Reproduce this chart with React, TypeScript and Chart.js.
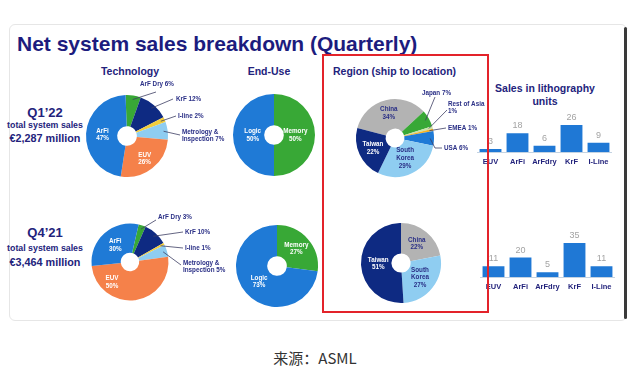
import React, { useEffect, useRef } from 'react';
import { Chart, registerables } from 'chart.js';
Chart.register(...registerables);

const FONT = '"Liberation Sans", Arial, Helvetica, sans-serif';
const NAVY = '#23237c';
const LABEL_NAVY = '#2a2f86';

// ---------- data ----------
const techNames = ['ArF Dry', 'KrF', 'I-line', 'Metrology &\nInspection', 'EUV', 'ArFi'];
const techQ122 = [6, 12, 2, 7, 26, 47];
const techQ421 = [3, 10, 1, 5, 50, 30];
const techColors = ['#38a836', '#0e2a82', '#f2cd3c', '#8fcdf1', '#f5814a', '#1f7ad6'];

const endUseNames = ['Memory', 'Logic'];
const endUseQ122 = [50, 50];
const endUseQ421 = [27, 73];
const endUseColors = ['#38a836', '#1f7ad6'];

const regionNamesQ122 = ['China', 'Japan', 'Rest of Asia', 'EMEA', 'USA', 'South\nKorea', 'Taiwan'];
const regionQ122 = [34, 7, 1, 1, 6, 29, 22];
const regionColorsQ122 = ['#b3b3b3', '#38a836', '#c9e2a8', '#f5b324', '#1f7ad6', '#8fcdf1', '#0e2a82'];
const regionNamesQ421 = ['China', 'South\nKorea', 'Taiwan'];
const regionQ421 = [22, 27, 51];
const regionColorsQ421 = ['#b3b3b3', '#8fcdf1', '#0e2a82'];

const unitCategories = ['EUV', 'ArFi', 'ArFdry', 'KrF', 'I-Line'];
const unitsQ122 = [3, 18, 6, 26, 9];
const unitsQ421 = [11, 20, 5, 35, 11];

// ---------- plugins ----------
const pieLabelPlugin = {
  id: 'pieLabels',
  afterDatasetsDraw(chart: any, _a: any, opts: any) {
    const { ctx } = chart;
    const meta = chart.getDatasetMeta(0);
    const ds = chart.data.datasets[0];
    const items = opts.items || [];
    meta.data.forEach((arc: any, i: number) => {
      const c = items[i];
      if (!c) return;
      const p = arc.getProps(['x', 'y', 'startAngle', 'endAngle', 'outerRadius', 'innerRadius'], true);
      const mid = c.ang != null ? ((c.ang - 90) * Math.PI) / 180 : (p.startAngle + p.endAngle) / 2;
      const text = chart.data.labels[i] + (c.sep || '\n') + ds.data[i] + '%';
      const lines = text.split('\n');
      const size = c.size || 6.3;
      const lh = size * 1.2;
      ctx.save();
      ctx.font = `bold ${size}px ${FONT}`;
      ctx.fillStyle = c.color || LABEL_NAVY;
      ctx.textBaseline = 'middle';
      if (c.kind === 'in') {
        const rr = p.outerRadius * (c.frac ?? 0.6);
        const x = p.x + Math.cos(mid) * rr;
        const y = p.y + Math.sin(mid) * rr;
        ctx.textAlign = 'center';
        lines.forEach((l: string, k: number) => ctx.fillText(l, x, y + (k - (lines.length - 1) / 2) * lh));
      } else {
        const sx = p.x + Math.cos(mid) * p.outerRadius * 0.9;
        const sy = p.y + Math.sin(mid) * p.outerRadius * 0.9;
        ctx.strokeStyle = '#3d3f63';
        ctx.lineWidth = 0.8;
        ctx.beginPath();
        ctx.moveTo(sx, sy);
        c.path.forEach(([dx, dy]: number[]) => ctx.lineTo(p.x + dx, p.y + dy));
        ctx.stroke();
        ctx.textAlign = 'left';
        lines.forEach((l: string, k: number) => ctx.fillText(l, p.x + c.at[0], p.y + c.at[1] + k * lh));
      }
      ctx.restore();
    });
  },
};

const barLabelPlugin = {
  id: 'barLabels',
  afterDatasetsDraw(chart: any) {
    const { ctx, chartArea } = chart;
    const meta = chart.getDatasetMeta(0);
    const ds = chart.data.datasets[0];
    ctx.save();
    ctx.strokeStyle = '#c4d3e2';
    ctx.lineWidth = 1;
    ctx.beginPath();
    ctx.moveTo(chartArea.left, chartArea.bottom + 0.5);
    ctx.lineTo(chartArea.right, chartArea.bottom + 0.5);
    ctx.stroke();
    ctx.textAlign = 'center';
    ctx.textBaseline = 'middle';
    meta.data.forEach((bar: any, i: number) => {
      const { x, y, base } = bar.getProps(['x', 'y', 'base'], true);
      ctx.fillStyle = '#a3a3a3';
      ctx.font = `9px ${FONT}`;
      ctx.fillText(String(ds.data[i]), x, y - 7.5);
      ctx.fillStyle = NAVY;
      ctx.font = `bold 7.5px ${FONT}`;
      ctx.fillText(chart.data.labels[i], x, base + 10);
    });
    ctx.restore();
  },
};

// ---------- components ----------
type Box = { l: number; t: number; r: number; b: number };

function PieChart(props: {
  names: string[]; values: number[]; colors: string[]; rotation: number;
  cx: number; cy: number; r: number; box: Box; items: any[];
}) {
  const ref = useRef<HTMLCanvasElement>(null);
  const { names, values, colors, rotation, cx, cy, r, box, items } = props;
  useEffect(() => {
    const chart = new Chart(ref.current as HTMLCanvasElement, {
      type: 'doughnut',
      data: { labels: names, datasets: [{ data: values, backgroundColor: colors, borderWidth: 0 }] },
      options: {
        responsive: false,
        animation: false,
        rotation,
        cutout: '24%',
        events: [],
        layout: {
          padding: { left: cx - r - box.l, right: box.r - (cx + r), top: cy - r - box.t, bottom: box.b - (cy + r) },
        },
        plugins: { legend: { display: false }, tooltip: { enabled: false }, pieLabels: { items } } as any,
      },
      plugins: [pieLabelPlugin],
    } as any);
    return () => chart.destroy();
  }, []);
  const w = box.r - box.l;
  const h = box.b - box.t;
  return (
    <canvas ref={ref} width={w} height={h}
      style={{ position: 'absolute', left: box.l, top: box.t, width: w, height: h }} />
  );
}

function UnitsBar(props: { values: number[]; box: Box; areaLeft: number; areaRight: number; baseline: number; pxPerUnit: number }) {
  const ref = useRef<HTMLCanvasElement>(null);
  const { values, box, areaLeft, areaRight, baseline, pxPerUnit } = props;
  const yMax = 40;
  useEffect(() => {
    const h = box.b - box.t;
    const padBottom = box.b - baseline;
    const padTop = h - padBottom - yMax * pxPerUnit;
    const chart = new Chart(ref.current as HTMLCanvasElement, {
      type: 'bar',
      data: {
        labels: unitCategories,
        datasets: [{ data: values, backgroundColor: '#1f78d5', borderWidth: 0, categoryPercentage: 1, barPercentage: 0.81 }],
      },
      options: {
        responsive: false,
        animation: false,
        events: [],
        layout: { padding: { left: areaLeft - box.l, right: box.r - areaRight, top: padTop, bottom: padBottom } },
        scales: {
          x: { display: false },
          y: { display: false, min: 0, max: yMax },
        },
        plugins: { legend: { display: false }, tooltip: { enabled: false } },
      },
      plugins: [barLabelPlugin],
    } as any);
    return () => chart.destroy();
  }, []);
  const w = box.r - box.l;
  const h = box.b - box.t;
  return (
    <canvas ref={ref} width={w} height={h}
      style={{ position: 'absolute', left: box.l, top: box.t, width: w, height: h }} />
  );
}

function Txt(props: { x: number; y: number; size: number; bold?: boolean; color?: string; align?: string; family?: string; children: any }) {
  const { x, y, size, bold = true, color = NAVY, align = 'center', family, children } = props;
  const tx = align === 'center' ? '-50%' : align === 'right' ? '-100%' : '0';
  return (
    <div style={{
      position: 'absolute', left: x, top: y, transform: `translate(${tx}, -50%)`,
      fontSize: size, fontWeight: bold ? 700 : 400, color, whiteSpace: 'nowrap', lineHeight: 1,
      fontFamily: family || FONT,
    }}>{children}</div>
  );
}

// ---------- label layouts ----------
const techQ122Items = [
  { kind: 'out', sep: ' ', at: [13, -52], path: [[29, -44]] },
  { kind: 'out', sep: ' ', at: [49, -37], path: [[46, -37]] },
  { kind: 'out', sep: ' ', at: [51, -20], path: [[49, -20]] },
  { kind: 'out', sep: ' ', at: [55, -4], path: [[53, -1]] },
  { kind: 'in', sep: '\n', color: '#ffffff', frac: 0.7 },
  { kind: 'in', sep: '\n', color: '#ffffff', frac: 0.6 },
];
const techQ421Items = [
  { kind: 'out', sep: ' ', at: [28, -45], path: [[26, -42]] },
  { kind: 'out', sep: ' ', at: [55, -30], path: [[53, -30]] },
  { kind: 'out', sep: ' ', at: [55, -14], path: [[53, -14]] },
  { kind: 'out', sep: ' ', at: [53, 1], path: [[51, 3]] },
  { kind: 'in', sep: '\n', color: '#ffffff', frac: 0.7, ang: 222 },
  { kind: 'in', sep: '\n', color: '#ffffff', frac: 0.58 },
];
const endUseQ122Items = [
  { kind: 'in', sep: '\n', color: '#ffffff', frac: 0.52 },
  { kind: 'in', sep: '\n', color: '#ffffff', frac: 0.52 },
];
const endUseQ421Items = [
  { kind: 'in', sep: '\n', color: '#ffffff', frac: 0.63 },
  { kind: 'in', sep: '\n', color: '#ffffff', frac: 0.58 },
];
const regionQ122Items = [
  { kind: 'in', sep: '\n', color: LABEL_NAVY, frac: 0.66 },
  { kind: 'out', sep: ' ', at: [27, -45], path: [[40, -41]] },
  { kind: 'out', sep: '\n', at: [53, -34], path: [[52, -28]] },
  { kind: 'out', sep: ' ', at: [53, -10], path: [[51, -10]] },
  { kind: 'out', sep: ' ', at: [49, 10], path: [[40, 10], [47, 10]] },
  { kind: 'in', sep: '\n', color: LABEL_NAVY, frac: 0.58 },
  { kind: 'in', sep: '\n', color: '#ffffff', frac: 0.62 },
];
const regionQ421Items = [
  { kind: 'in', sep: '\n', color: LABEL_NAVY, frac: 0.62 },
  { kind: 'in', sep: '\n', color: LABEL_NAVY, frac: 0.6 },
  { kind: 'in', sep: '\n', color: '#ffffff', frac: 0.57 },
];

export default function App() {
  return (
    <div style={{ position: 'absolute', left: 0, top: 0, width: 640, height: 378, background: '#ffffff', overflow: 'hidden', fontFamily: FONT }}>
      {/* slide frame */}
      <div style={{ position: 'absolute', left: 9, top: 24, width: 616, height: 295, border: '1px solid #e6e6e6', borderRadius: 6 }} />
      <div style={{ position: 'absolute', left: 624, top: 27, width: 3, height: 292, background: '#3a3a3a', borderRadius: 2 }} />

      <Txt x={17} y={43} size={21} align="left" color="#1c1c7e">Net system sales breakdown (Quarterly)</Txt>

      {/* column headers */}
      <Txt x={130} y={71} size={10.5}>Technology</Txt>
      <Txt x={269} y={71} size={10.5}>End-Use</Txt>
      <Txt x={333} y={71} size={10.5} align="left">Region (ship to location)</Txt>
      <Txt x={545} y={88} size={10.5}>Sales in lithography</Txt>
      <Txt x={545} y={101} size={10.5}>units</Txt>

      {/* left annotations */}
      <Txt x={45} y={112} size={13}>Q1’22</Txt>
      <Txt x={45} y={125} size={8.8}>total system sales</Txt>
      <Txt x={45} y={138} size={10.8}>€2,287 million</Txt>
      <Txt x={45} y={232} size={13}>Q4’21</Txt>
      <Txt x={45} y={248} size={8.8}>total system sales</Txt>
      <Txt x={45} y={262} size={10.8}>€3,464 million</Txt>

      {/* pies */}
      <PieChart names={techNames} values={techQ122} colors={techColors} rotation={-2}
        cx={127} cy={136} r={41} box={{ l: 80, t: 76, r: 226, b: 182 }} items={techQ122Items} />
      <PieChart names={techNames} values={techQ421} colors={techColors} rotation={13}
        cx={130} cy={262} r={38.5} box={{ l: 85, t: 206, r: 228, b: 305 }} items={techQ421Items} />
      <PieChart names={endUseNames} values={endUseQ122} colors={endUseColors} rotation={0}
        cx={274} cy={135} r={41} box={{ l: 228, t: 90, r: 320, b: 180 }} items={endUseQ122Items} />
      <PieChart names={endUseNames} values={endUseQ421} colors={endUseColors} rotation={0}
        cx={277} cy={266} r={41} box={{ l: 230, t: 220, r: 322, b: 312 }} items={endUseQ421Items} />
      <PieChart names={regionNamesQ122} values={regionQ122} colors={regionColorsQ122} rotation={-75}
        cx={395} cy={138} r={39} box={{ l: 352, t: 84, r: 486, b: 182 }} items={regionQ122Items} />
      <PieChart names={regionNamesQ421} values={regionQ421} colors={regionColorsQ421} rotation={0}
        cx={401} cy={263} r={40} box={{ l: 358, t: 220, r: 446, b: 306 }} items={regionQ421Items} />

      {/* unit bars */}
      <UnitsBar values={unitsQ122} box={{ l: 474, t: 100, r: 616, b: 175 }} areaLeft={477} areaRight={612} baseline={152} pxPerUnit={1.04} />
      <UnitsBar values={unitsQ421} box={{ l: 476, t: 225, r: 618, b: 300 }} areaLeft={480} areaRight={615} baseline={277} pxPerUnit={0.97} />

      {/* red highlight */}
      <div style={{ position: 'absolute', left: 322, top: 54, width: 163, height: 255, border: '2px solid #e3232a' }} />

      <Txt x={315} y={357} size={15} bold={false} color="#333333" family={'"Noto Sans CJK SC", "Noto Sans", sans-serif'}>来源：ASML</Txt>
    </div>
  );
}
